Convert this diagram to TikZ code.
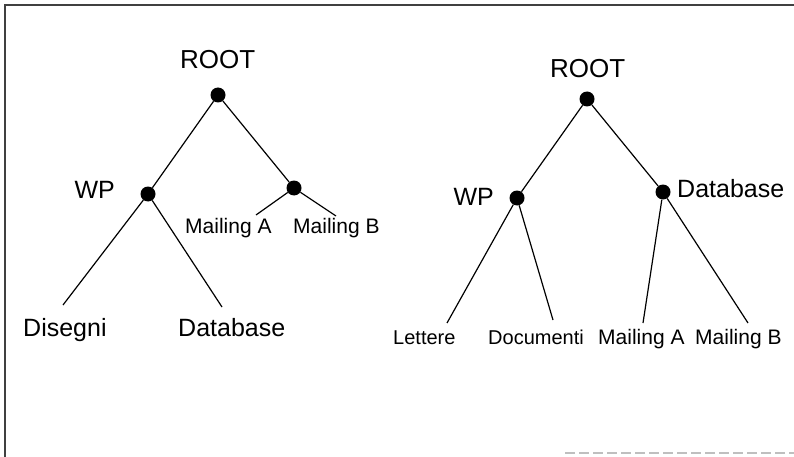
\documentclass[tikz,border=0pt]{standalone}
\usepackage{fontspec}
\setmainfont{Liberation Sans}
\begin{document}
\begin{tikzpicture}[x=1pt,y=-1pt,
  dot/.style={circle,fill=black,inner sep=0pt,minimum size=15pt},
  edge/.style={line width=1.2pt},
  big/.style={inner sep=0pt,anchor=base west,font=\fontsize{25}{30}\selectfont},
  bigr/.style={big,anchor=base east},
  small/.style={inner sep=0pt,anchor=base west,font=\fontsize{21}{25}\selectfont}]
\useasboundingbox (0,0) rectangle (794,457);
% frame
\draw[line width=2pt, black!75] (5,457) -- (5,5) -- (794,5);
\draw[line width=1.5pt, black!25, dash pattern=on 10pt off 4pt] (565,453) -- (794,453);

% ---- left tree ----
\node[dot] (lroot) at (218,95) {};
\node[dot] (lwp) at (148,194) {};
\node[dot] (lmail) at (294,188) {};
\node[big,font=\fontsize{26}{30}\selectfont] (lroottxt) at (180,69) {ROOT};
\node[bigr] (lwptxt) at (115,198) {WP};
\node[small] (lmatxt) at (185,233) {Mailing A};
\node[small] (lmbtxt) at (293,233) {Mailing B};
\node[big] (ldistxt) at (23,336) {Disegni};
\node[big] (ldbtxt) at (178,336) {Database};
\coordinate (lma) at (256,215);
\coordinate (lmb) at (336,216);
\coordinate (ldis) at (63,305);
\coordinate (ldb) at (222,307);
\draw[edge] (lroot) -- (lwp);
\draw[edge] (lroot) -- (lmail);
\draw[edge] (lmail) -- (lma);
\draw[edge] (lmail) -- (lmb);
\draw[edge] (lwp) -- (ldis);
\draw[edge] (lwp) -- (ldb);

% ---- right tree ----
\node[dot] (rroot) at (587,99) {};
\node[dot] (rwp) at (517,198) {};
\node[dot] (rdb) at (663,192) {};
\node[big,font=\fontsize{26}{30}\selectfont] (rroottxt) at (550,78) {ROOT};
\node[bigr] (rwptxt) at (494,205) {WP};
\node[big] (rdbtxt) at (677,197) {Database};
\node[small,font=\fontsize{20}{24}\selectfont] (rlettxt) at (393,344) {Lettere};
\node[small,font=\fontsize{20}{24}\selectfont] (rdoctxt) at (488,344) {Documenti};
\node[small] (rmatxt) at (598,344) {Mailing A};
\node[small] (rmbtxt) at (695,344) {Mailing B};
\coordinate (rlet) at (447,323);
\coordinate (rdoc) at (553,320);
\coordinate (rma) at (643,323);
\coordinate (rmb) at (748,323);
\draw[edge] (rroot) -- (rwp);
\draw[edge] (rroot) -- (rdb);
\draw[edge] (rwp) -- (rlet);
\draw[edge] (rwp) -- (rdoc);
\draw[edge] (rdb) -- (rma);
\draw[edge] (rdb) -- (rmb);
\end{tikzpicture}
\end{document}
